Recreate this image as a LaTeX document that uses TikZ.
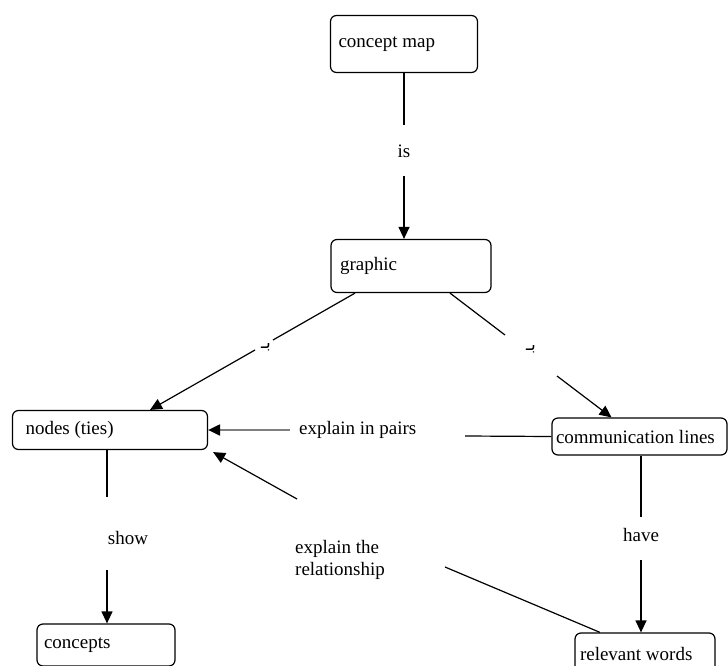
\documentclass[tikz,border=0pt]{standalone}
\usepackage{fontspec}
\setmainfont{Liberation Serif}
\newfontfamily\arabicfont[Script=Arabic]{DejaVu Sans}
\TeXXeTstate=1
\usetikzlibrary{arrows.meta}
\begin{document}
\begin{tikzpicture}[x=1pt,y=-1pt,
  box/.style={draw, rounded corners=6pt, line width=1.2pt, inner ysep=0pt},
  conn/.style={line width=1.2pt},
  arr/.style={line width=1.2pt, -{Triangle[length=12pt,width=11pt]}},
  lbl/.style={inner sep=0pt},
  every node/.append style={font=\fontsize{19}{22}\selectfont}]
\fill[white] (0,0) rectangle (728,666);
\useasboundingbox (0,0) rectangle (728,666);

% boxes
\node[box, minimum width=147pt, minimum height=57pt, inner xsep=8pt] (cm) at (404,44) {\makebox[131pt][l]{concept map}};
\node[box, minimum width=160pt, minimum height=53pt, inner xsep=9pt] (graphic) at (411,266) {\makebox[142pt][l]{graphic}};
\node[box, minimum width=195pt, minimum height=39pt, inner xsep=13pt] (nodes) at (110,430) {\makebox[169pt][l]{nodes (ties)}};
\node[box, minimum width=175pt, minimum height=37pt, inner xsep=4pt] (comm) at (639.5,436.5) {\makebox[167pt][l]{communication lines}};
\node[box, minimum width=138pt, minimum height=42pt, inner xsep=7pt] (concepts) at (106,645) {\makebox[124pt][l]{concepts}};
\node[box, minimum width=140pt, minimum height=42pt, inner xsep=5pt] (rel) at (645,654) {\makebox[130pt][l]{relevant words}};

% labels
\node[lbl] (is) at (404,151) {is};
\node[lbl] (show) at (128,538) {show};
\node[lbl] (have) at (641,535) {have};
\node[lbl, anchor=west] (pairs) at (299,430) {explain in pairs};
\node[lbl, anchor=north west, align=left] (relation) at (295,540) {explain the\\relationship};
\node[lbl, font=\fontsize{17}{18}\arabicfont] (b1) at (266,347) {\beginR بـ\endR};
\node[lbl, font=\fontsize{17}{18}\arabicfont] (b2) at (531,349) {\beginR بـ\endR};

% free ends
\coordinate (is1) at (404,125);
\coordinate (is2) at (404,176);
\coordinate (g1) at (273,340);
\coordinate (g2) at (255,350);
\coordinate (c1) at (505,335);
\coordinate (c2) at (557,376);
\coordinate (p1) at (465,436);
\coordinate (p2) at (290,430);
\coordinate (r1) at (445,567);
\coordinate (r2) at (297,499);
\coordinate (s1) at (107,497);
\coordinate (s2) at (107,570);
\coordinate (h1) at (641,517);
\coordinate (h2) at (641,560);

% connectors
\draw[conn] (cm.south) -- (is1);
\draw[arr] (is2) -- (graphic.north -| is2);

\draw[conn] ([xshift=-56pt]graphic.south) -- (g1);
\draw[arr] (g2) -- ([xshift=40pt]nodes.north);

\draw[conn] ([xshift=39pt]graphic.south) -- (c1);
\draw[arr] (c2) -- ([xshift=-28pt]comm.north);

\draw[conn] (comm.west) -- (p1);
\draw[draw=black!50, line width=2pt, -{Triangle[length=12pt,width=11pt,color=black]}] (p2) -- (nodes.east);

\draw[conn] ([xshift=-45pt]rel.north) -- (r1);
\draw[arr] (r2) -- ([xshift=5pt,yshift=-2pt]nodes.south east);

\draw[conn] (nodes.south -| s1) -- (s1);
\draw[arr] (s2) -- (concepts.north -| s2);

\draw[conn] (comm.south -| h1) -- (h1);
\draw[arr] (h2) -- (rel.north -| h2);
\end{tikzpicture}
\end{document}
